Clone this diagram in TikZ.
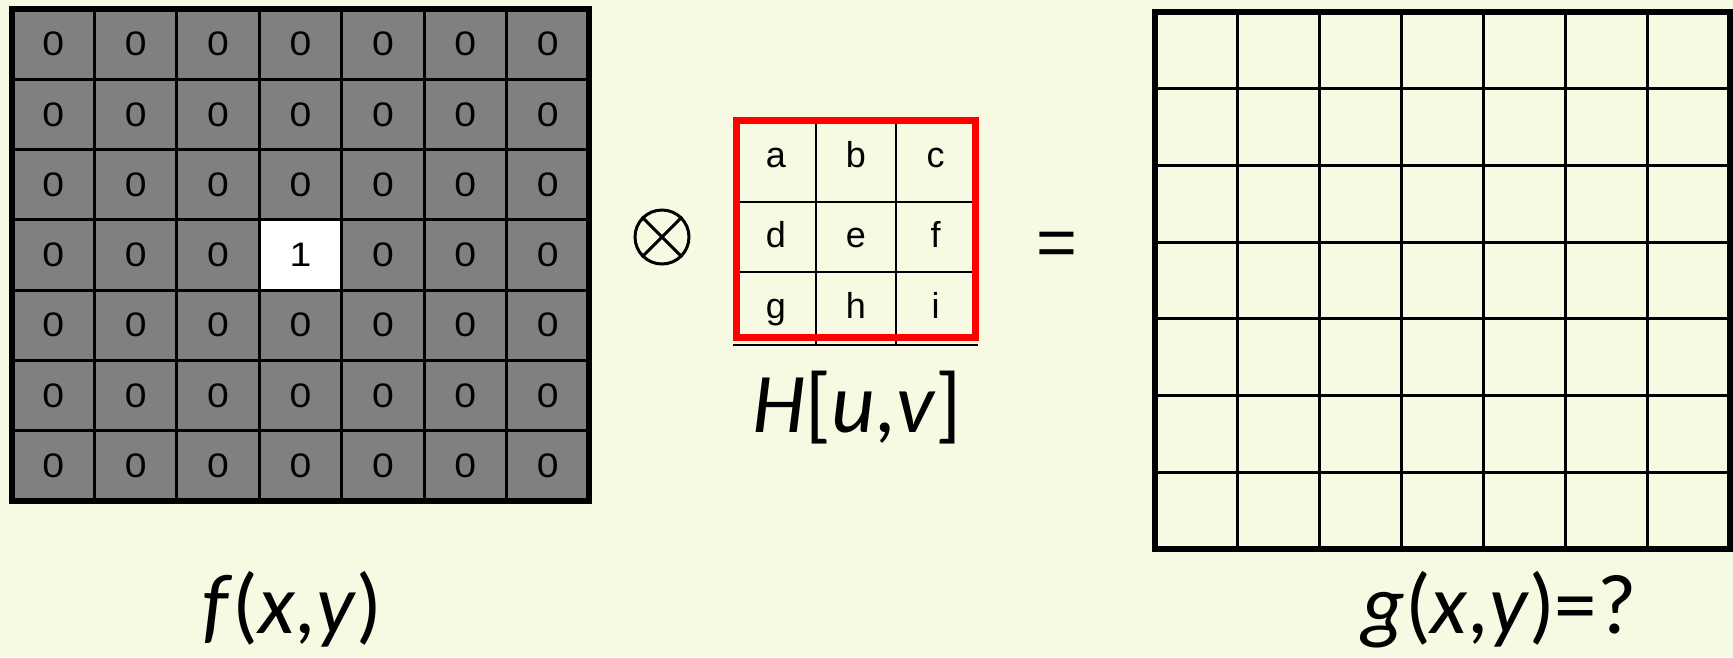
\documentclass[tikz,border=0pt]{standalone}
\usepackage{fontspec}
\setmainfont{Carlito}
\newfontfamily\arialf{Liberation Sans}
\newfontfamily\digf{Liberation Sans}[FakeStretch=1.15]
\definecolor{bgc}{RGB}{248,249,227}
\definecolor{cellgray}{RGB}{128,128,128}
\definecolor{kred}{RGB}{255,0,0}
\tikzset{
  thinline/.style={line width=2.8pt, black},
  thickline/.style={line width=6pt, black},
  digit/.style={font=\digf\fontsize{34}{34}\selectfont, inner sep=0pt},
  kletter/.style={font=\arialf\fontsize{36}{36}\selectfont, inner sep=0pt, anchor=base},
  biglabel/.style={font=\fontsize{85}{85}\selectfont, inner sep=0pt, anchor=base},
  opsign/.style={font=\arialf\fontsize{70}{70}\selectfont, inner sep=0pt, anchor=base},
}
\begin{document}
\begin{tikzpicture}[x=1pt,y=-1pt]
\useasboundingbox (0,0) rectangle (1733,657);
\fill[bgc] (0,0) rectangle (1733,657);

% ---------- input image f(x,y) ----------
\fill[cellgray] (12,9) rectangle (589,501);
\fill[white] ({12+3*82.4286},{9+3*70.2857}) rectangle ({12+4*82.4286},{9+4*70.2857});
\foreach \i in {1,...,6}{
  \draw[thinline] ({12+\i*82.4286},9) -- ({12+\i*82.4286},501);
  \draw[thinline] (12,{9+\i*70.2857}) -- (589,{9+\i*70.2857});
}
\draw[thickline] (12,9) rectangle (589,501);
\foreach \r in {0,...,6}{
  \foreach \c in {0,...,6}{
    \node[digit] (f-\r-\c) at ({12+(\c+0.5)*82.4286},{9+(\r+0.5)*70.2857})
      {\ifnum\r=3 \ifnum\c=3 1\else 0\fi\else 0\fi};
  }
}

% ---------- operator ----------
\node[circle, draw, line width=3pt, minimum size=54pt, inner sep=0pt] (ot) at (662,237) {};
\draw[line width=3pt] (ot.45) -- (ot.225);
\draw[line width=3pt] (ot.135) -- (ot.315);

% ---------- kernel H[u,v] ----------
\draw[thinline] (816,120) -- (816,345);
\draw[thinline] (896,120) -- (896,345);
\draw[thinline] (736,202) -- (975,202);
\draw[thinline] (736,272) -- (975,272);
\draw[thinline] (733,345) -- (978,345);
\draw[kred, line width=7pt] (736,120) rectangle (975,337);
\node[kletter] (ka) at (776,167) {a};
\node[kletter] (kb) at (856,167) {b};
\node[kletter] (kc) at (935.5,167) {c};
\node[kletter] (kd) at (776,247) {d};
\node[kletter] (ke) at (856,247) {e};
\node[kletter] (kf) at (935.5,247) {f};
\node[kletter] (kg) at (776,318) {g};
\node[kletter] (kh) at (856,318) {h};
\node[kletter] (ki) at (935.5,318) {i};
\node[biglabel] (hlab) at (857,432) {\textit{H}[\textit{u},\textit{v}]};

% ---------- equals ----------
\node[opsign] (eq) at (1057,266) {=};

% ---------- output g(x,y) ----------
\foreach \i in {1,...,6}{
  \draw[thinline] ({1155+\i*82.1429},12) -- ({1155+\i*82.1429},549);
  \draw[thinline] (1155,{12+\i*76.7143}) -- (1730,{12+\i*76.7143});
}
\draw[thickline] (1155,12) rectangle (1730,549);

% ---------- labels ----------
\node[biglabel] (flab) at (292,633) {\textit{f}(\textit{x},\textit{y})};
\node[biglabel] (glab) at (1499,633) {\textit{g}(\textit{x},\textit{y})=?};
\end{tikzpicture}
\end{document}
